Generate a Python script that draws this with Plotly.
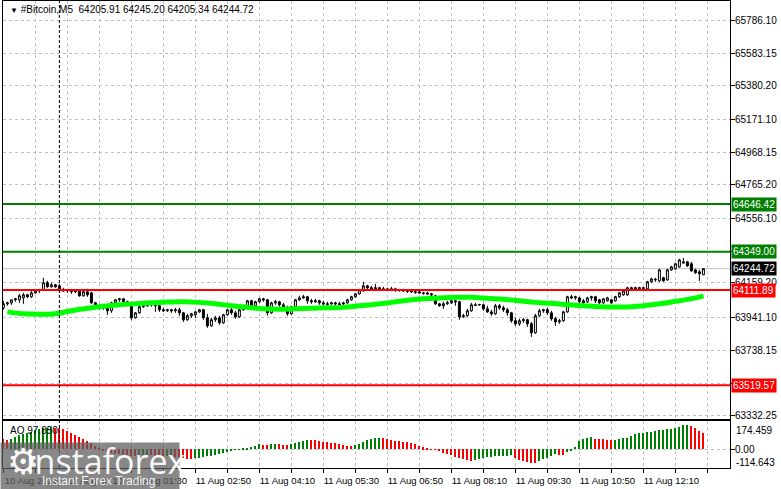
import pandas as pd
import plotly.graph_objects as go

# ---- candles (M5) ----
open_ = [
    64001, 64026, 64032, 64051, 64051, 64063, 64082, 64070, 64094, 64107,
    64113, 64157, 64132, 64144, 64138, 64113, 64107, 64113, 64101, 64107,
    64076, 64101, 64094, 64032, 64014, 64001, 64008, 63983, 64032, 64051,
    64057, 64039, 64026, 63939, 63970, 64008, 64014, 64020, 64032, 64014,
    63989, 63983, 63989, 63983, 63989, 63970, 63927, 63952, 63958, 63976,
    63989, 63939, 63889, 63927, 63939, 63908, 63958, 63989, 63970, 63945,
    63989, 64014, 64045, 64014, 64039, 64057, 64051, 63970, 64032, 64039,
    64020, 64001, 63964, 64008, 64051, 64063, 64070, 64045, 64039, 64045,
    64032, 64026, 64026, 64032, 64026, 64026, 64032, 64051, 64070, 64088,
    64107, 64138, 64126, 64119, 64126, 64119, 64119, 64113, 64119, 64113,
    64113, 64107, 64107, 64101, 64101, 64094, 64094, 64088, 64076, 64026,
    64014, 64026, 64032, 64045, 64039, 63945, 63952, 63983, 64020, 64020,
    64020, 63995, 63976, 63964, 64014, 64001, 63989, 63970, 63921, 63902,
    63921, 63927, 63902, 63846, 63952, 63983, 63989, 63970, 63933, 63914,
    63921, 63976, 64070, 64063, 64063, 64045, 64039, 64063, 64070, 64051,
    64032, 64045, 64051, 64045, 64070, 64082, 64082, 64126, 64119, 64119,
    64126, 64119, 64163, 64175, 64169, 64188, 64175, 64237, 64244, 64256,
    64287, 64287, 64275, 64237, 64225, 64205.91,
]
high = [
    64045, 64039, 64051, 64063, 64088, 64094, 64088, 64107, 64113, 64119,
    64188, 64169, 64157, 64150, 64150, 64126, 64119, 64119, 64113, 64113,
    64107, 64119, 64101, 64039, 64020, 64014, 64014, 64039, 64057, 64063,
    64063, 64045, 64032, 63976, 64014, 64020, 64026, 64039, 64039, 64020,
    64001, 63995, 63995, 64001, 64001, 63976, 63964, 63970, 63983, 63995,
    63995, 63964, 63939, 63952, 63952, 63964, 63995, 64001, 63983, 63995,
    64020, 64051, 64051, 64045, 64063, 64063, 64057, 64039, 64051, 64045,
    64032, 64014, 64014, 64057, 64076, 64082, 64076, 64057, 64057, 64051,
    64045, 64039, 64039, 64039, 64039, 64039, 64057, 64076, 64094, 64119,
    64163, 64144, 64138, 64150, 64132, 64132, 64126, 64132, 64126, 64119,
    64119, 64113, 64113, 64107, 64107, 64101, 64101, 64094, 64082, 64032,
    64039, 64045, 64051, 64051, 64045, 63964, 63995, 64032, 64032, 64026,
    64026, 64014, 63989, 64026, 64026, 64014, 64001, 63976, 63939, 63933,
    63939, 63933, 63914, 63964, 63995, 63995, 64001, 63983, 63945, 63933,
    63983, 64076, 64082, 64076, 64070, 64057, 64070, 64076, 64076, 64057,
    64063, 64070, 64057, 64076, 64101, 64113, 64132, 64132, 64132, 64132,
    64132, 64169, 64188, 64188, 64244, 64194, 64244, 64262, 64281, 64306,
    64312, 64293, 64287, 64244, 64237, 64245.20,
]
low = [
    63989, 64014, 64020, 64039, 64032, 64026, 64063, 64063, 64088, 64094,
    64107, 64126, 64126, 64126, 64107, 64101, 64094, 64088, 64094, 64070,
    64070, 64070, 64026, 64001, 63989, 63989, 63958, 63970, 64026, 64039,
    64026, 64020, 63927, 63933, 63964, 64001, 64008, 64008, 63976, 63976,
    63976, 63976, 63970, 63970, 63952, 63914, 63921, 63939, 63939, 63970,
    63927, 63877, 63883, 63914, 63896, 63902, 63952, 63958, 63933, 63939,
    63983, 64008, 64001, 64008, 64032, 64039, 63952, 63964, 64020, 64008,
    63989, 63952, 63958, 64001, 64045, 64057, 64026, 64026, 64032, 64020,
    64014, 64014, 64020, 64014, 64020, 64014, 64026, 64045, 64063, 64082,
    64101, 64113, 64113, 64113, 64107, 64107, 64107, 64107, 64101, 64101,
    64101, 64094, 64094, 64088, 64088, 64082, 64082, 64070, 64020, 64008,
    63995, 64020, 64026, 64014, 63927, 63939, 63945, 63976, 64014, 64014,
    63983, 63970, 63952, 63958, 63989, 63976, 63952, 63908, 63889, 63889,
    63908, 63883, 63821, 63840, 63945, 63970, 63958, 63921, 63889, 63902,
    63914, 63970, 64057, 64051, 64026, 64026, 64032, 64045, 64032, 64026,
    64026, 64039, 64026, 64039, 64063, 64076, 64076, 64113, 64113, 64113,
    64113, 64113, 64157, 64163, 64163, 64163, 64169, 64231, 64237, 64250,
    64275, 64256, 64225, 64213, 64169, 64205.34,
]
close = [
    64026, 64032, 64051, 64057, 64076, 64082, 64070, 64094, 64107, 64113,
    64157, 64132, 64144, 64132, 64113, 64107, 64113, 64101, 64107, 64076,
    64101, 64082, 64032, 64014, 64001, 64008, 63983, 64032, 64051, 64057,
    64039, 64026, 63939, 63970, 64008, 64014, 64020, 64032, 64014, 63989,
    63983, 63989, 63983, 63989, 63970, 63927, 63952, 63964, 63976, 63989,
    63939, 63889, 63927, 63939, 63908, 63958, 63989, 63970, 63945, 63989,
    64014, 64045, 64014, 64039, 64057, 64051, 63970, 64032, 64039, 64020,
    64001, 63964, 64008, 64051, 64063, 64070, 64045, 64039, 64045, 64032,
    64026, 64023, 64032, 64026, 64022, 64032, 64051, 64070, 64088, 64113,
    64138, 64126, 64119, 64126, 64119, 64116, 64113, 64119, 64113, 64110,
    64107, 64104, 64101, 64098, 64094, 64091, 64088, 64082, 64026, 64014,
    64026, 64032, 64045, 64039, 63945, 63952, 63983, 64020, 64017, 64022,
    63995, 63976, 63964, 64014, 64001, 63989, 63970, 63921, 63902, 63921,
    63927, 63902, 63846, 63952, 63983, 63989, 63970, 63933, 63914, 63921,
    63976, 64070, 64063, 64070, 64039, 64032, 64063, 64070, 64045, 64032,
    64057, 64063, 64032, 64070, 64094, 64107, 64126, 64119, 64126, 64126,
    64123, 64163, 64181, 64178, 64237, 64169, 64237, 64256, 64275, 64299,
    64281, 64262, 64231, 64219, 64213, 64244.72,
]

# moving average, sampled every 20 min from 22:55, last point 13:25
ma_values = [
    63976, 63964, 63961, 63964, 63983, 63998, 64011, 64020, 64026, 64032,
    64037, 64039, 64035, 64026, 64014, 64004, 63995, 63992, 63995, 63998,
    64001, 64004, 64014, 64023, 64035, 64048, 64057, 64063, 64067, 64067,
    64060, 64054, 64045, 64035, 64029, 64020, 64014, 64008, 64006, 64008,
    64017, 64029, 64045, 64063, 64076,
]

# Awesome Oscillator
ao_values = [
    65, 57, 65, 75, 86, 96, 102, 108, 116, 122,
    128, 133, 135, 134, 130, 122, 112, 102, 90, 77,
    65, 51, 37, 20, 8, -10, -18, -25, -30, -33,
    -35, -38, -40, -41, -40, -38, -37, -39, -42, -44,
    -45, -44, -43, -47, -55, -58, -60, -61, -57, -53,
    -48, -44, -40, -36, -30, -22, -15, -8, -3, -1,
    1, 3, 14, 22, 30, 28, 26, 32, 34, 30,
    28, 27, 30, 36, 42, 48, 58, 57, 54, 50,
    47, 43, 38, 35, 30, 25, 22, 20, 24, 33,
    44, 55, 63, 68, 70, 68, 62, 58, 52, 50,
    47, 43, 39, 31, 22, 10, 2, -1, -2, -14,
    -22, -31, -39, -49, -55, -63, -69, -71, -65, -59,
    -55, -51, -49, -45, -43, -42, -41, -39, -55, -65,
    -73, -80, -86, -88, -75, -63, -55, -43, -33, -36,
    -37, -20, -6, 16, 53, 62, 70, 75, 63, 62,
    61, 59, 57, 59, 63, 67, 71, 79, 94, 98,
    100, 104, 108, 112, 116, 120, 122, 126, 132, 140,
    150, 152, 143, 130, 110, 97.85,
]
ao_max_label = "174.459"
ao_min_label = "-114.643"

resistance_levels = [64646.42, 64349.00]
support_levels = [64111.89, 63519.57]
last_price = 64244.72

price_ticks = [65786.10, 65583.15, 65380.20, 65171.10, 64968.15, 64765.20,
               64556.10, 64352.40, 64159.20, 63941.10, 63738.15, 63532.40, 63332.25]
price_tick_labels = ["65786.10", "65583.15", "65380.20", "65171.10", "64968.15",
                     "64765.20", "64556.10", "", "64159.20", "63941.10",
                     "63738.15", "", "63332.25"]

time_labels = ["10 Aug 2026", "", "11 Aug 00:10", "", "11 Aug 01:30", "",
               "11 Aug 02:50", "", "11 Aug 04:10", "", "11 Aug 05:30", "",
               "11 Aug 06:50", "", "11 Aug 08:10", "", "11 Aug 09:30", "",
               "11 Aug 10:50", "", "11 Aug 12:10", "", ""]

bar_times = pd.date_range("2026-08-10 22:50", periods=len(close), freq="5min")
ma_times = list(pd.date_range("2026-08-10 22:55", periods=len(ma_values) - 1, freq="20min"))
ma_times.append(pd.Timestamp("2026-08-11 13:25"))
time_ticks = pd.date_range("2026-08-10 22:50", periods=len(time_labels), freq="40min")

FONT = "Liberation Sans, Arial, sans-serif"
GRID = "#c0c0c0"
GREEN = "#008000"
RED = "#ff0000"
WM_TEXT = "rgba(255,255,255,0.95)"

ao_colors = []
for i, v in enumerate(ao_values):
    if i > 0 and v > ao_values[i - 1]:
        ao_colors.append(GREEN)
    else:
        ao_colors.append(RED)

fig = go.Figure()

fig.add_trace(go.Candlestick(
    x=bar_times, open=open_, high=high, low=low, close=close,
    increasing=dict(line=dict(color="black", width=1), fillcolor="white"),
    decreasing=dict(line=dict(color="black", width=1), fillcolor="black"),
    whiskerwidth=0, hoverinfo="skip", xaxis="x", yaxis="y",
))
fig.add_trace(go.Scatter(
    x=ma_times, y=ma_values, mode="lines",
    line=dict(color="#00ff00", width=5, shape="spline"),
    hoverinfo="skip", xaxis="x", yaxis="y",
))
fig.add_trace(go.Bar(
    x=bar_times, y=ao_values, width=80000,
    marker=dict(color=ao_colors, line=dict(width=0)),
    hoverinfo="skip", xaxis="x2", yaxis="y2",
))

x_range = ["2026-08-10 22:49:30", "2026-08-11 13:58:15"]
axis_common = dict(showline=True, mirror=True, linecolor="black", linewidth=1,
                   showgrid=True, gridcolor=GRID, griddash="3px,3px", gridwidth=1,
                   zeroline=False, automargin=False)

shapes = []
for v in resistance_levels:
    shapes.append(dict(type="line", xref="x domain", x0=0, x1=1, yref="y", y0=v, y1=v,
                       line=dict(color=GREEN, width=2), layer="above"))
for v in support_levels:
    shapes.append(dict(type="line", xref="x domain", x0=0, x1=1, yref="y", y0=v, y1=v,
                       line=dict(color=RED, width=2), layer="above"))
shapes.append(dict(type="line", xref="x domain", x0=0, x1=1, yref="y", y0=last_price,
                   y1=last_price, line=dict(color="#c0c0c0", width=1), layer="below"))
# day separator
shapes.append(dict(type="line", xref="x", x0="2026-08-11 00:00", x1="2026-08-11 00:00",
                   yref="paper", y0=0, y1=1, line=dict(color="black", width=1, dash="3px,2px"),
                   layer="above"))

annotations = [
    dict(xref="paper", yref="paper", x=0.007, y=0.981, xanchor="left", yanchor="middle",
         showarrow=False, font=dict(family=FONT, size=10, color="black"),
         text="<span style='font-size:8px'>▼</span> #Bitcoin,M5  64205.91 64245.20 64205.34 64244.72"),
    dict(xref="paper", yref="paper", x=0.007, y=0.0798, xanchor="left", yanchor="middle",
         showarrow=False, font=dict(family=FONT, size=10, color="black"), text="AO 97.850"),
    dict(xref="paper", yref="paper", x=1, y=0.081, xanchor="left", yanchor="middle", xshift=4,
         showarrow=False, font=dict(family=FONT, size=10, color="black"), text=ao_max_label),
    dict(xref="paper", yref="paper", x=1, y=0.012, xanchor="left", yanchor="middle", xshift=4,
         showarrow=False, font=dict(family=FONT, size=10, color="black"), text=ao_min_label),
]
price_boxes = [(resistance_levels[0], GREEN), (resistance_levels[1], GREEN),
               (last_price, "black"), (support_levels[0], RED), (support_levels[1], RED)]
for v, c in price_boxes:
    annotations.append(dict(xref="paper", x=1, xanchor="left", xshift=1, yref="y", y=v,
                            yanchor="middle", text=f"{v:.2f}", showarrow=False,
                            font=dict(family=FONT, size=10, color="white"),
                            bgcolor=c, borderpad=1))
# watermark plate (an annotation so it also covers the time labels) and its texts
annotations += [
    dict(xref="paper", yref="paper", x=0.1197, y=0.0049, xanchor="center", yanchor="middle",
         showarrow=False, text="&nbsp;", width=178, height=46, borderpad=0,
         bgcolor="rgba(95,95,95,0.74)", font=dict(size=10)),
    dict(xref="paper", yref="paper", x=0.0275, y=0.0135, xanchor="center", yanchor="middle",
         showarrow=False, text="⚙", font=dict(family="DejaVu Sans", size=36, color=WM_TEXT)),
    dict(xref="paper", yref="paper", x=0.142, y=0.0156, xanchor="center", yanchor="middle",
         showarrow=False, text="instaforex",
         font=dict(family="Open Sans, sans-serif", size=34, color=WM_TEXT)),
    dict(xref="paper", yref="paper", x=0.132, y=-0.0272, xanchor="center", yanchor="middle",
         showarrow=False, text="Instant Forex Trading",
         font=dict(family=FONT, size=12, color=WM_TEXT)),
]

fig.update_layout(
    width=781, height=489,
    margin=dict(l=3, r=51, t=1, b=21),
    paper_bgcolor="white", plot_bgcolor="white",
    showlegend=False, hovermode=False,
    bargap=0,
    xaxis=dict(domain=[0, 1], anchor="y", type="date", range=x_range,
               tickvals=list(time_ticks), ticktext=[""] * len(time_ticks), ticks="",
               showticklabels=False, rangeslider=dict(visible=False), **axis_common),
    xaxis2=dict(domain=[0, 1], anchor="y2", type="date", range=x_range, matches="x",
                tickvals=list(time_ticks), ticktext=time_labels, ticks="outside",
                ticklen=4, tickcolor="black", ticklabelshift=28,
                tickfont=dict(family=FONT, size=9.5, color="black"), **axis_common),
    yaxis=dict(domain=[0.1055, 1], anchor="x", side="right", range=[63311.75, 65908.5],
               tickvals=price_ticks, ticktext=price_tick_labels, ticks="outside",
               ticklen=4, tickcolor="black", ticklabelstandoff=-2,
               tickfont=dict(family=FONT, size=10, color="black"), **axis_common),
    yaxis2=dict(domain=[0, 0.0997], anchor="x2", side="right", range=[-114.643, 174.459],
                tickvals=[0], ticktext=["0.00"], ticks="outside", ticklen=4,
                ticklabelstandoff=-2,
                tickcolor="black", tickfont=dict(family=FONT, size=10, color="black"),
                **axis_common),
    shapes=shapes,
    annotations=annotations,
)

# the page body has a default 8px margin; drop it so the figure sits at the corner
fig.write_html("out.html", config={"displayModeBar": False},
               post_script="document.body.style.margin='0';")
